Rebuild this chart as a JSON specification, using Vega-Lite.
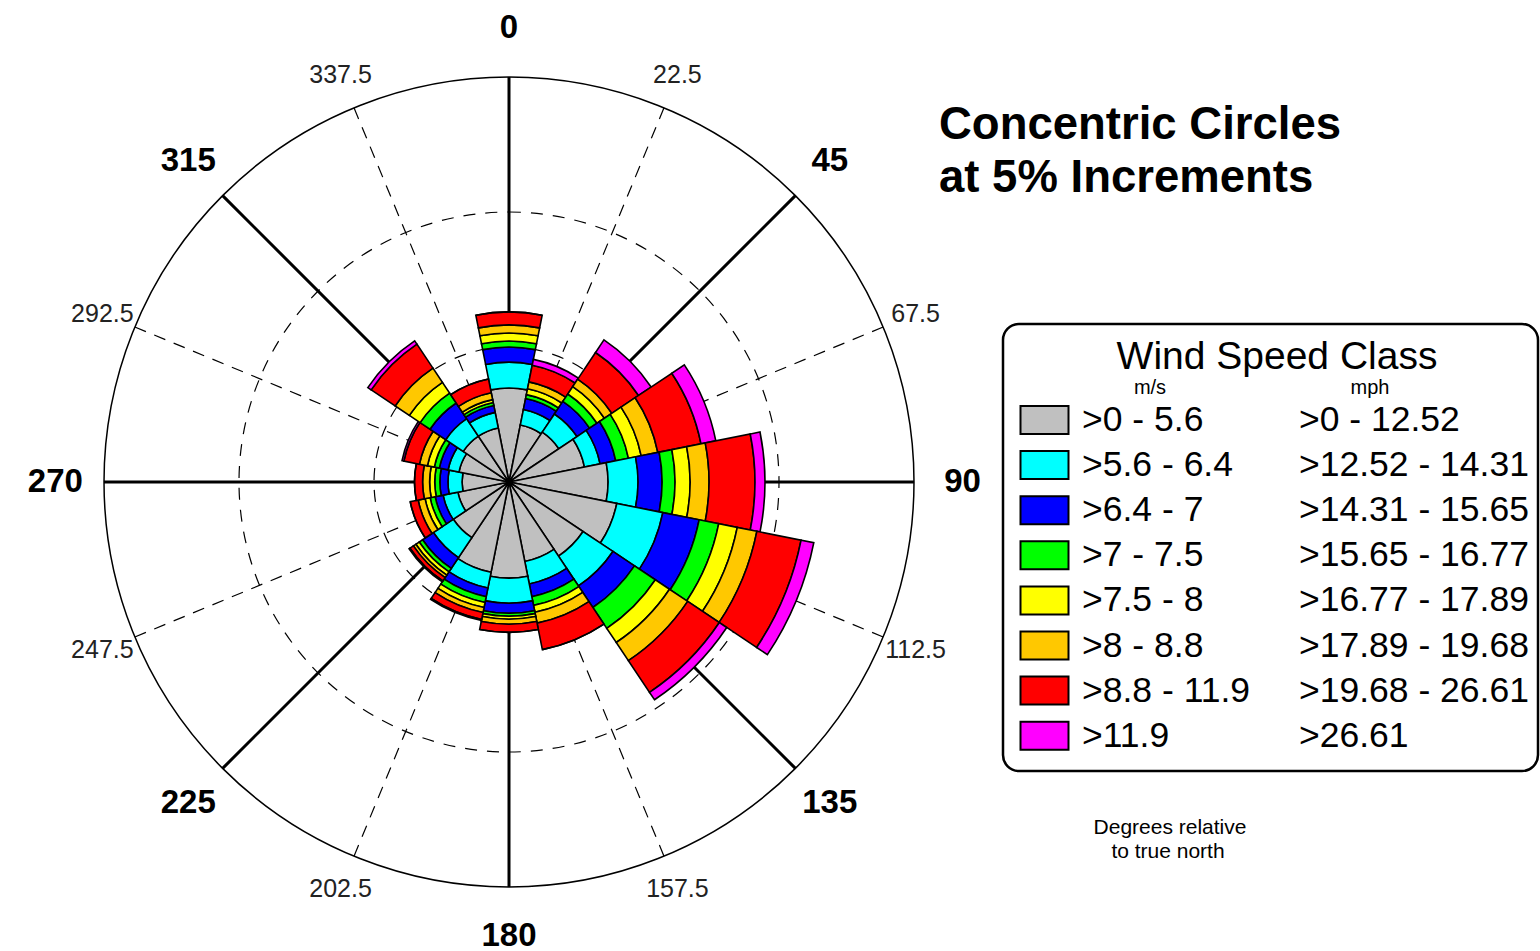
{
  "$schema": "https://vega.github.io/schema/vega-lite/v6.json",
  "padding": 0,
  "spacing": 0,
  "bounds": "flush",
  "background": "white",
  "config": {"view": {"stroke": null}, "text": {"font": "Liberation Sans"}},
  "datasets": {
    "wind": [
      {"dir":0,"cls":1,"pct":3.48},{"dir":0,"cls":2,"pct":0.96},{"dir":0,"cls":3,"pct":0.56},{"dir":0,"cls":4,"pct":0.22},{"dir":0,"cls":5,"pct":0.30},{"dir":0,"cls":6,"pct":0.30},{"dir":0,"cls":7,"pct":0.48},{"dir":0,"cls":8,"pct":0},
      {"dir":22.5,"cls":1,"pct":2.15},{"dir":22.5,"cls":2,"pct":0.59},{"dir":22.5,"cls":3,"pct":0.41},{"dir":22.5,"cls":4,"pct":0.15},{"dir":22.5,"cls":5,"pct":0.22},{"dir":22.5,"cls":6,"pct":0.26},{"dir":22.5,"cls":7,"pct":0.63},{"dir":22.5,"cls":8,"pct":0.22},
      {"dir":45,"cls":1,"pct":2.22},{"dir":45,"cls":2,"pct":0.81},{"dir":45,"cls":3,"pct":0.56},{"dir":45,"cls":4,"pct":0.33},{"dir":45,"cls":5,"pct":0.33},{"dir":45,"cls":6,"pct":0.33},{"dir":45,"cls":7,"pct":1.19},{"dir":45,"cls":8,"pct":0.56},
      {"dir":67.5,"cls":1,"pct":2.85},{"dir":67.5,"cls":2,"pct":0.59},{"dir":67.5,"cls":3,"pct":0.59},{"dir":67.5,"cls":4,"pct":0.48},{"dir":67.5,"cls":5,"pct":0.48},{"dir":67.5,"cls":6,"pct":0.63},{"dir":67.5,"cls":7,"pct":1.63},{"dir":67.5,"cls":8,"pct":0.56},
      {"dir":90,"cls":1,"pct":3.67},{"dir":90,"cls":2,"pct":1.11},{"dir":90,"cls":3,"pct":0.89},{"dir":90,"cls":4,"pct":0.48},{"dir":90,"cls":5,"pct":0.56},{"dir":90,"cls":6,"pct":0.70},{"dir":90,"cls":7,"pct":1.70},{"dir":90,"cls":8,"pct":0.37},
      {"dir":112.5,"cls":1,"pct":4.07},{"dir":112.5,"cls":2,"pct":1.74},{"dir":112.5,"cls":3,"pct":1.37},{"dir":112.5,"cls":4,"pct":0.74},{"dir":112.5,"cls":5,"pct":0.70},{"dir":112.5,"cls":6,"pct":0.74},{"dir":112.5,"cls":7,"pct":1.67},{"dir":112.5,"cls":8,"pct":0.48},
      {"dir":135,"cls":1,"pct":3.30},{"dir":135,"cls":2,"pct":1.33},{"dir":135,"cls":3,"pct":0.96},{"dir":135,"cls":4,"pct":0.93},{"dir":135,"cls":5,"pct":0.63},{"dir":135,"cls":6,"pct":0.81},{"dir":135,"cls":7,"pct":1.41},{"dir":135,"cls":8,"pct":0.33},
      {"dir":157.5,"cls":1,"pct":3.00},{"dir":157.5,"cls":2,"pct":0.85},{"dir":157.5,"cls":3,"pct":0.48},{"dir":157.5,"cls":4,"pct":0.33},{"dir":157.5,"cls":5,"pct":0.26},{"dir":157.5,"cls":6,"pct":0.41},{"dir":157.5,"cls":7,"pct":1.00},{"dir":157.5,"cls":8,"pct":0},
      {"dir":180,"cls":1,"pct":3.56},{"dir":180,"cls":2,"pct":0.93},{"dir":180,"cls":3,"pct":0.37},{"dir":180,"cls":4,"pct":0.11},{"dir":180,"cls":5,"pct":0.11},{"dir":180,"cls":6,"pct":0.19},{"dir":180,"cls":7,"pct":0.30},{"dir":180,"cls":8,"pct":0},
      {"dir":202.5,"cls":1,"pct":3.41},{"dir":202.5,"cls":2,"pct":0.59},{"dir":202.5,"cls":3,"pct":0.33},{"dir":202.5,"cls":4,"pct":0.22},{"dir":202.5,"cls":5,"pct":0.19},{"dir":202.5,"cls":6,"pct":0.19},{"dir":202.5,"cls":7,"pct":0.26},{"dir":202.5,"cls":8,"pct":0.04},
      {"dir":225,"cls":1,"pct":2.48},{"dir":225,"cls":2,"pct":0.89},{"dir":225,"cls":3,"pct":0.48},{"dir":225,"cls":4,"pct":0.15},{"dir":225,"cls":5,"pct":0.15},{"dir":225,"cls":6,"pct":0.11},{"dir":225,"cls":7,"pct":0.15},{"dir":225,"cls":8,"pct":0.04},
      {"dir":247.5,"cls":1,"pct":1.93},{"dir":247.5,"cls":2,"pct":0.56},{"dir":247.5,"cls":3,"pct":0.30},{"dir":247.5,"cls":4,"pct":0.19},{"dir":247.5,"cls":5,"pct":0.19},{"dir":247.5,"cls":6,"pct":0.26},{"dir":247.5,"cls":7,"pct":0.30},{"dir":247.5,"cls":8,"pct":0},
      {"dir":270,"cls":1,"pct":1.74},{"dir":270,"cls":2,"pct":0.52},{"dir":270,"cls":3,"pct":0.30},{"dir":270,"cls":4,"pct":0.19},{"dir":270,"cls":5,"pct":0.19},{"dir":270,"cls":6,"pct":0.26},{"dir":270,"cls":7,"pct":0.30},{"dir":270,"cls":8,"pct":0},
      {"dir":292.5,"cls":1,"pct":1.89},{"dir":292.5,"cls":2,"pct":0.41},{"dir":292.5,"cls":3,"pct":0.33},{"dir":292.5,"cls":4,"pct":0.19},{"dir":292.5,"cls":5,"pct":0.26},{"dir":292.5,"cls":6,"pct":0.30},{"dir":292.5,"cls":7,"pct":0.59},{"dir":292.5,"cls":8,"pct":0.07},
      {"dir":315,"cls":1,"pct":2.04},{"dir":315,"cls":2,"pct":0.78},{"dir":315,"cls":3,"pct":0.70},{"dir":315,"cls":4,"pct":0.44},{"dir":315,"cls":5,"pct":0.48},{"dir":315,"cls":6,"pct":0.63},{"dir":315,"cls":7,"pct":1.07},{"dir":315,"cls":8,"pct":0.15},
      {"dir":337.5,"cls":1,"pct":2.04},{"dir":337.5,"cls":2,"pct":0.59},{"dir":337.5,"cls":3,"pct":0.26},{"dir":337.5,"cls":4,"pct":0.11},{"dir":337.5,"cls":5,"pct":0.11},{"dir":337.5,"cls":6,"pct":0.26},{"dir":337.5,"cls":7,"pct":0.52},{"dir":337.5,"cls":8,"pct":0}
    ],
    "classes": [
      {"cls":1,"ms":">0 - 5.6","mph":">0 - 12.52"},
      {"cls":2,"ms":">5.6 - 6.4","mph":">12.52 - 14.31"},
      {"cls":3,"ms":">6.4 - 7","mph":">14.31 - 15.65"},
      {"cls":4,"ms":">7 - 7.5","mph":">15.65 - 16.77"},
      {"cls":5,"ms":">7.5 - 8","mph":">16.77 - 17.89"},
      {"cls":6,"ms":">8 - 8.8","mph":">17.89 - 19.68"},
      {"cls":7,"ms":">8.8 - 11.9","mph":">19.68 - 26.61"},
      {"cls":8,"ms":">11.9","mph":">26.61"}
    ],
    "major": [
      {"dir":0,"label":"0"},{"dir":45,"label":"45"},{"dir":90,"label":"90"},{"dir":135,"label":"135"},
      {"dir":180,"label":"180"},{"dir":225,"label":"225"},{"dir":270,"label":"270"},{"dir":315,"label":"315"}
    ],
    "minor": [
      {"dir":22.5,"label":"22.5"},{"dir":67.5,"label":"67.5"},{"dir":112.5,"label":"112.5"},{"dir":157.5,"label":"157.5"},
      {"dir":202.5,"label":"202.5"},{"dir":247.5,"label":"247.5"},{"dir":292.5,"label":"292.5"},{"dir":337.5,"label":"337.5"}
    ],
    "rings": [{"pct":5},{"pct":10}],
    "outer": [{"pct":15}],
    "one": [{}]
  },
  "hconcat": [
    {
      "width": 1018,
      "height": 964,
      "layer": [
        {
          "data": {"name": "minor"},
          "mark": {"type": "arc", "filled": false, "stroke": "black", "strokeWidth": 1.2, "strokeDash": [12, 9]},
          "encoding": {
            "theta": {"field": "dir", "type": "quantitative", "stack": false, "scale": {"type": "linear", "domain": [0, 360], "range": [0, 6.283185307179586]}},
            "theta2": {"field": "dir"},
            "radius": {"datum": 0, "type": "quantitative", "stack": false, "scale": {"type": "linear", "domain": [0, 15], "range": [0, 405], "zero": true, "nice": false}},
            "radius2": {"datum": 15}
          }
        },
        {
          "data": {"name": "major"},
          "mark": {"type": "arc", "filled": false, "stroke": "black", "strokeWidth": 3},
          "encoding": {
            "theta": {"field": "dir", "type": "quantitative", "stack": false},
            "theta2": {"field": "dir"},
            "radius": {"datum": 0, "type": "quantitative", "stack": false},
            "radius2": {"datum": 15}
          }
        },
        {
          "data": {"name": "rings"},
          "mark": {"type": "arc", "filled": false, "stroke": "black", "strokeWidth": 1.2, "strokeDash": [12, 10], "theta": 0, "theta2": 6.2832},
          "encoding": {
            "radius": {"field": "pct", "type": "quantitative", "stack": false}
          }
        },
        {
          "data": {"name": "outer"},
          "mark": {"type": "arc", "filled": false, "stroke": "black", "strokeWidth": 1.5, "theta": 0, "theta2": 6.2832},
          "encoding": {
            "radius": {"field": "pct", "type": "quantitative", "stack": false}
          }
        },
        {
          "data": {"name": "wind"},
          "transform": [
            {"calculate": "datum.dir - 11.25", "as": "t0"},
            {"calculate": "datum.dir + 11.25", "as": "t1"},
            {"stack": "pct", "groupby": ["dir"], "sort": [{"field": "cls", "order": "ascending"}], "as": ["r0", "r1"]}
          ],
          "mark": {"type": "arc", "stroke": "black", "strokeWidth": 1.6, "opacity": 1},
          "encoding": {
            "theta": {"field": "t0", "type": "quantitative", "stack": false},
            "theta2": {"field": "t1"},
            "radius": {"field": "r1", "type": "quantitative", "stack": false},
            "radius2": {"field": "r0"},
            "color": {"field": "cls", "type": "ordinal", "legend": null,
              "scale": {"domain": [1,2,3,4,5,6,7,8], "range": ["#C0C0C0","#00FFFF","#0000FF","#00FF00","#FFFF00","#FFC800","#FF0000","#FF00FF"]}}
          }
        },
        {
          "data": {"name": "major"},
          "mark": {"type": "text", "fontSize": 33, "fontWeight": "bold", "align": "center", "baseline": "middle", "color": "black"},
          "encoding": {
            "theta": {"field": "dir", "type": "quantitative", "stack": false},
            "radius": {"datum": 16.8, "type": "quantitative", "stack": false},
            "text": {"field": "label"}
          }
        },
        {
          "data": {"name": "minor"},
          "mark": {"type": "text", "fontSize": 25, "align": "center", "baseline": "middle", "color": "#222"},
          "encoding": {
            "theta": {"field": "dir", "type": "quantitative", "stack": false},
            "radius": {"datum": 16.3, "type": "quantitative", "stack": false},
            "text": {"field": "label"}
          }
        }
      ]
    },
    {
      "width": 522,
      "height": 964,
      "encoding": {
        "x": {"type": "quantitative", "axis": null, "scale": {"type": "linear", "domain": [1018, 1540], "zero": false, "nice": false}},
        "y": {"type": "quantitative", "axis": null, "scale": {"type": "linear", "domain": [-8.3126, 13.062], "reverse": true, "zero": false, "nice": false}}
      },
      "layer": [
        {
          "data": {"name": "one"},
          "mark": {"type": "rect", "fill": "white", "stroke": "black", "strokeWidth": 2.5, "cornerRadius": 16},
          "encoding": {
            "x": {"datum": 1003, "type": "quantitative"},
            "x2": {"datum": 1538},
            "y": {"datum": -1.1286, "type": "quantitative"},
            "y2": {"datum": 8.7827}
          }
        },
        {
          "data": {"name": "one"},
          "mark": {"type": "text", "fontSize": 45.5, "fontWeight": "bold", "align": "left", "baseline": "middle", "color": "black"},
          "encoding": {
            "x": {"datum": 939, "type": "quantitative"},
            "y": {"datum": -5.54, "type": "quantitative"},
            "text": {"value": "Concentric Circles"}
          }
        },
        {
          "data": {"name": "one"},
          "mark": {"type": "text", "fontSize": 45.5, "fontWeight": "bold", "align": "left", "baseline": "middle", "color": "black"},
          "encoding": {
            "x": {"datum": 939, "type": "quantitative"},
            "y": {"datum": -4.37, "type": "quantitative"},
            "text": {"value": "at 5% Increments"}
          }
        },
        {
          "data": {"name": "one"},
          "mark": {"type": "text", "fontSize": 39, "align": "center", "baseline": "middle", "color": "black"},
          "encoding": {
            "x": {"datum": 1277, "type": "quantitative"},
            "y": {"datum": -0.40, "type": "quantitative"},
            "text": {"value": "Wind Speed Class"}
          }
        },
        {
          "data": {"name": "one"},
          "mark": {"type": "text", "fontSize": 20, "align": "center", "baseline": "middle", "color": "black"},
          "encoding": {
            "x": {"datum": 1150, "type": "quantitative"},
            "y": {"datum": 0.2905, "type": "quantitative"},
            "text": {"value": "m/s"}
          }
        },
        {
          "data": {"name": "one"},
          "mark": {"type": "text", "fontSize": 20, "align": "center", "baseline": "middle", "color": "black"},
          "encoding": {
            "x": {"datum": 1370, "type": "quantitative"},
            "y": {"datum": 0.2905, "type": "quantitative"},
            "text": {"value": "mph"}
          }
        },
        {
          "data": {"name": "classes"},
          "mark": {"type": "point", "filled": true, "opacity": 1, "stroke": "black", "strokeWidth": 2, "size": 2304, "shape": "M-1,-0.583H1V0.583H-1Z"},
          "encoding": {
            "x": {"datum": 1044.5, "type": "quantitative"},
            "y": {"field": "cls", "type": "quantitative"},
            "color": {"field": "cls", "type": "ordinal", "legend": null,
              "scale": {"domain": [1,2,3,4,5,6,7,8], "range": ["#C0C0C0","#00FFFF","#0000FF","#00FF00","#FFFF00","#FFC800","#FF0000","#FF00FF"]}}
          }
        },
        {
          "data": {"name": "classes"},
          "mark": {"type": "text", "fontSize": 35.5, "align": "left", "baseline": "middle", "color": "black"},
          "encoding": {
            "x": {"datum": 1082, "type": "quantitative"},
            "y": {"field": "cls", "type": "quantitative"},
            "text": {"field": "ms"}
          }
        },
        {
          "data": {"name": "classes"},
          "mark": {"type": "text", "fontSize": 35.5, "align": "left", "baseline": "middle", "color": "black"},
          "encoding": {
            "x": {"datum": 1299, "type": "quantitative"},
            "y": {"field": "cls", "type": "quantitative"},
            "text": {"field": "mph"}
          }
        },
        {
          "data": {"name": "one"},
          "mark": {"type": "text", "fontSize": 21, "align": "center", "baseline": "middle", "color": "black"},
          "encoding": {
            "x": {"datum": 1170, "type": "quantitative"},
            "y": {"datum": 10.0466, "type": "quantitative"},
            "text": {"value": "Degrees relative"}
          }
        },
        {
          "data": {"name": "one"},
          "mark": {"type": "text", "fontSize": 21, "align": "center", "baseline": "middle", "color": "black"},
          "encoding": {
            "x": {"datum": 1168, "type": "quantitative"},
            "y": {"datum": 10.5787, "type": "quantitative"},
            "text": {"value": "to true north"}
          }
        }
      ]
    }
  ]
}
